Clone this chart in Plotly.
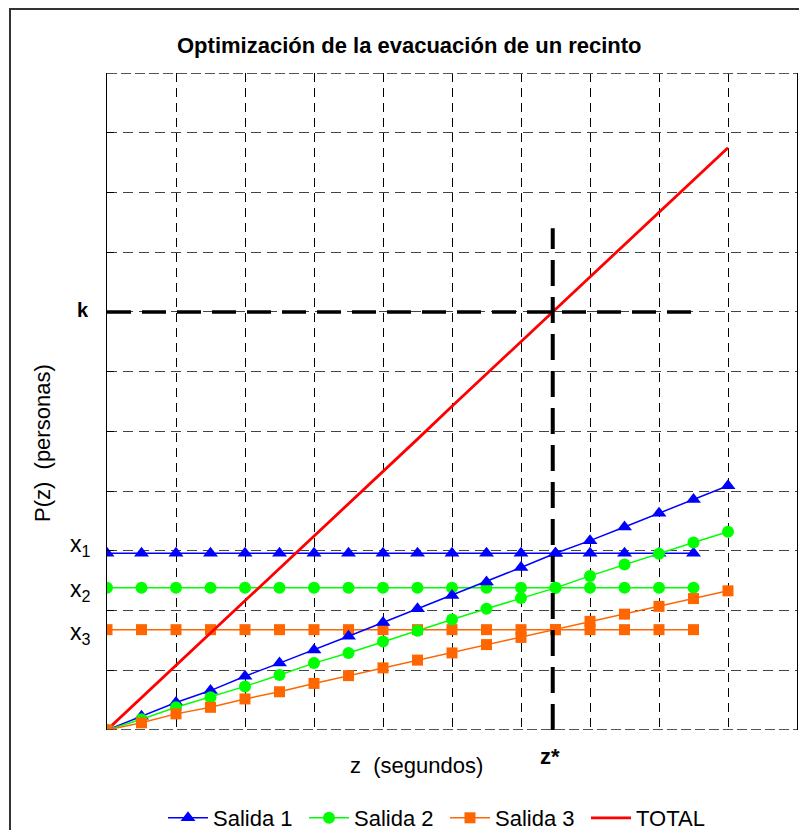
import plotly.graph_objects as go

# ---- data (y in grid units, z in grid units) ----
z_rise = [0, 0.5, 1, 1.5, 2, 2.5, 3, 3.5, 4, 4.5, 5, 5.5, 6, 6.5, 7, 7.5, 8, 8.5, 9]
salida1 = [0, 0.23, 0.46, 0.66, 0.90, 1.12, 1.34, 1.57, 1.80, 2.03, 2.25, 2.48, 2.72, 2.96, 3.17, 3.40, 3.63, 3.86, 4.09]
salida2 = [0, 0.18, 0.38, 0.55, 0.73, 0.92, 1.12, 1.29, 1.48, 1.66, 1.85, 2.03, 2.21, 2.38, 2.58, 2.77, 2.95, 3.14, 3.32]
salida3 = [0, 0.12, 0.27, 0.38, 0.52, 0.64, 0.78, 0.91, 1.04, 1.17, 1.29, 1.43, 1.55, 1.68, 1.82, 1.94, 2.07, 2.20, 2.33]
total = [0, 0.54, 1.08, 1.62, 2.17, 2.71, 3.25, 3.79, 4.33, 4.87, 5.42, 5.96, 6.50, 7.04, 7.58, 8.12, 8.67, 9.21, 9.75]

z_flat = [0, 0.5, 1, 1.5, 2, 2.5, 3, 3.5, 4, 4.5, 5, 5.5, 6, 6.5, 7, 7.5, 8, 8.5]
x1_level = 2.96
x2_level = 2.38
x3_level = 1.68

k_level = 7.0
k_line_z = [0, 8.55]
z_star = 6.46
z_star_line_y = [0, 8.40]

x_range = [0, 10]
y_range = [0, 11]

series_names = ["Salida 1", "Salida 2", "Salida 3", "TOTAL"]
level_labels = ["x<sub>1</sub>", "x<sub>2</sub>", "x<sub>3</sub>"]
title_text = "Optimización de la evacuación de un recinto"
x_title = "z  (segundos)"
y_title = "P(z)  (personas)"

# ---- styles / layout (pixel positions are window coordinates) ----
FONT = "Liberation Sans, Arial, sans-serif"
BLUE, GREEN, ORANGE, RED = "#0000FF", "#00FF00", "#FF6600", "#FF0000"
OFF = 8                      # page body margin of the html page
WIN_W, WIN_H = 807, 838
W, H = WIN_W - OFF, WIN_H - 2 * OFF
PLOT_L, PLOT_R, PLOT_T, PLOT_B = 107, 797, 73, 730
ML = PLOT_L - OFF
MR = WIN_W - PLOT_R
MT = PLOT_T - OFF
MB = (H + OFF) - PLOT_B
PW, PH = PLOT_R - PLOT_L, PLOT_B - PLOT_T


def px_x(p):
    return (p - PLOT_L) / PW


def px_y(p):
    return (PLOT_B - p) / PH


fig = go.Figure()

styles = [
    (salida1, x1_level, BLUE, dict(symbol="triangle-up", size=13)),
    (salida2, x2_level, GREEN, dict(symbol="circle", size=12)),
    (salida3, x3_level, ORANGE, dict(symbol="square", size=11)),
]

# flat (capacity) lines
for (vals, lvl, col, mk), name in zip(styles, series_names):
    fig.add_trace(go.Scatter(
        x=z_flat, y=[lvl] * len(z_flat), mode="lines+markers",
        line=dict(color=col, width=1.5), marker=dict(color=col, **mk),
        showlegend=False, hoverinfo="skip"))

# total
fig.add_trace(go.Scatter(
    x=z_rise, y=total, mode="lines", name=series_names[3],
    line=dict(color=RED, width=2.8), legendrank=4))

# rising lines
for i, ((vals, lvl, col, mk), name) in enumerate(zip(styles, series_names)):
    fig.add_trace(go.Scatter(
        x=z_rise, y=vals, mode="lines+markers", name=name,
        line=dict(color=col, width=1.5), marker=dict(color=col, **mk),
        legendrank=i + 1))

# k and z* reference lines
fig.add_trace(go.Scatter(
    x=k_line_z, y=[k_level, k_level], mode="lines",
    line=dict(color="black", width=3.5, dash="24px,11px"),
    showlegend=False, hoverinfo="skip"))
fig.add_trace(go.Scatter(
    x=[z_star, z_star], y=z_star_line_y, mode="lines",
    line=dict(color="black", width=4, dash="26px,11px"),
    showlegend=False, hoverinfo="skip"))

annotations = [
    dict(text="<b>" + title_text + "</b>", xref="paper", yref="paper",
         x=px_x(409), y=px_y(45), xanchor="center", yanchor="middle",
         showarrow=False, font=dict(size=22, color="black")),
    dict(text=x_title, xref="paper", yref="paper", x=px_x(416), y=px_y(765),
         xanchor="center", yanchor="middle",
         showarrow=False, font=dict(size=22, color="black")),
    dict(text=y_title, xref="paper", yref="paper", x=px_x(42), y=px_y(443),
         xanchor="center", yanchor="middle",
         textangle=-90, showarrow=False, font=dict(size=22, color="black")),
    dict(text="<b>z*</b>", xref="x", yref="paper", x=z_star, y=px_y(756),
         xanchor="center", yanchor="middle",
         xshift=-3, showarrow=False, font=dict(size=22, color="black")),
    dict(text="<b>k</b>", xref="paper", yref="y", x=px_x(91), y=k_level,
         xanchor="right", yanchor="middle", yshift=2, showarrow=False,
         font=dict(size=20, color="black")),
]
for lab, lvl, ys in zip(level_labels, [x1_level, x2_level, x3_level], [8, -3, -4]):
    annotations.append(dict(text=lab, xref="paper", yref="y", x=px_x(93), y=lvl,
                            xanchor="right", yanchor="middle", yshift=ys,
                            showarrow=False, font=dict(size=23, color="black")))

shapes = [
    # outer frame
    dict(type="rect", xref="paper", yref="paper",
         x0=px_x(10), x1=px_x(820), y0=px_y(860), y1=px_y(OFF + 1),
         line=dict(color="#333333", width=2), layer="below"),
    # top and bottom dashed plot borders
    dict(type="line", xref="paper", yref="y", x0=0, x1=1, y0=y_range[1], y1=y_range[1],
         line=dict(color="#555555", width=2, dash="10px,4px")),
    dict(type="line", xref="paper", yref="y", x0=0, x1=1, y0=y_range[0], y1=y_range[0],
         line=dict(color="#555555", width=2, dash="10px,4px")),
]

fig.update_layout(
    width=W, height=H,
    margin=dict(l=ML, r=MR, t=MT, b=MB, autoexpand=False),
    paper_bgcolor="white", plot_bgcolor="white",
    font=dict(family=FONT, size=22, color="black"),
    xaxis=dict(range=x_range, dtick=1, tick0=0, showgrid=True, gridcolor="black",
               griddash="9px,6px", gridwidth=1, zeroline=False, showline=False,
               showticklabels=False, ticks=""),
    yaxis=dict(range=y_range, dtick=1, tick0=0, showgrid=True, gridcolor="#444444",
               griddash="10px,6px", gridwidth=1, zeroline=False, showline=True,
               linecolor="black", linewidth=1, mirror=True,
               showticklabels=False, ticks="inside", ticklen=7, tickcolor="black"),
    legend=dict(orientation="h", x=px_x(445), xanchor="center", y=px_y(818),
                yanchor="middle", font=dict(size=22), traceorder="normal",
                bgcolor="rgba(0,0,0,0)", itemwidth=40,
                entrywidth=86, entrywidthmode="pixels"),
    annotations=annotations,
    shapes=shapes,
    showlegend=True,
)

fig.write_html("out.html")
